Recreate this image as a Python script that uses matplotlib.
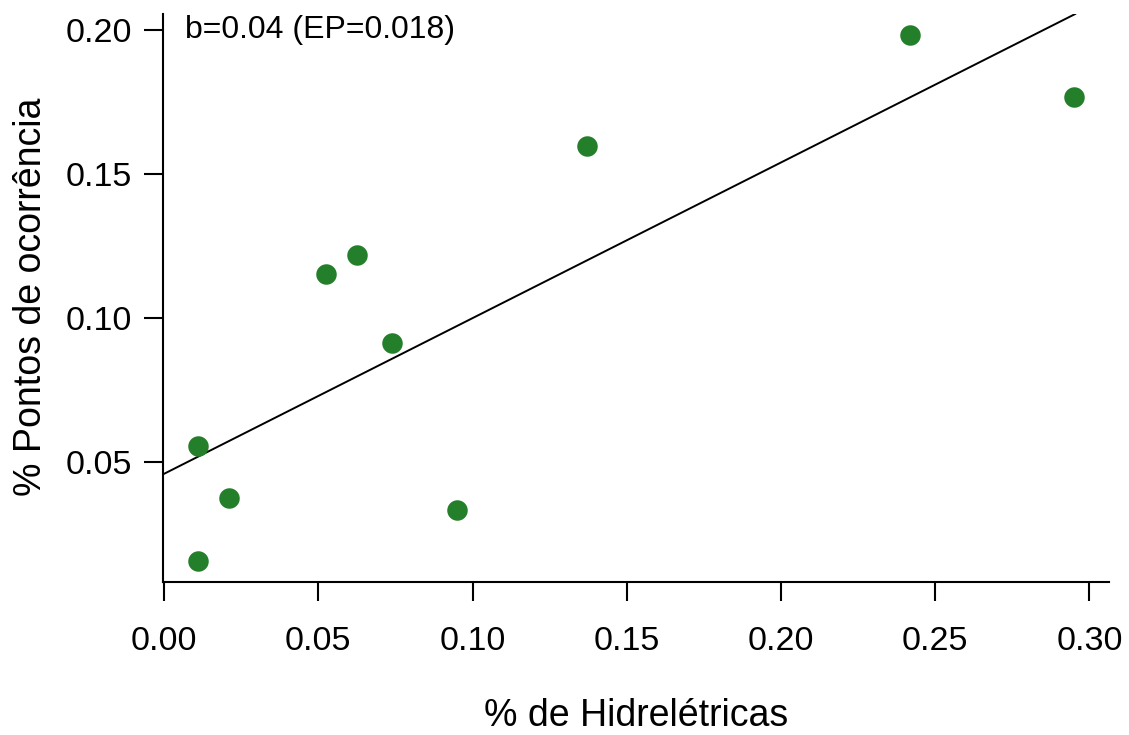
import matplotlib
matplotlib.use("Agg")
import matplotlib.pyplot as plt
import numpy as np

plt.rcParams['font.family'] = ['Liberation Sans', 'DejaVu Sans']

hidro = [0.011, 0.011, 0.021, 0.0525, 0.0626, 0.074, 0.095, 0.137, 0.242, 0.295]
pontos = [0.0555, 0.0155, 0.0375, 0.1154, 0.1217, 0.0914, 0.0333, 0.1596, 0.1983, 0.1767]
intercept = 0.0458
slope = 0.541
xticks = [0.00, 0.05, 0.10, 0.15, 0.20, 0.25, 0.30]
yticks = [0.05, 0.10, 0.15, 0.20]
annot = "b=0.04 (EP=0.018)"

W, H = 1129, 735
fig = plt.figure(figsize=(W / 100, H / 100), dpi=100)
ax = fig.add_axes([163 / W, (H - 582) / H, (1109 - 163) / W, (582 - 14) / H])

xr = max(hidro) - min(hidro)
yr = max(pontos) - min(pontos)
ax.set_xlim(min(hidro) - 0.04 * xr, max(hidro) + 0.04 * xr)
ax.set_ylim(min(pontos) - 0.04 * yr, max(pontos) + 0.04 * yr)

ax.scatter(hidro, pontos, s=(20.5 * 0.72) ** 2, color='#247f2b', zorder=3, linewidths=0)
ax.axline((0, intercept), slope=slope, color='black', lw=1.4, zorder=2)

for s in ['top', 'right']:
    ax.spines[s].set_visible(False)
ax.spines['left'].set_linewidth(1.5)
ax.spines['bottom'].set_linewidth(1.5)

ax.set_xticks(xticks)
ax.set_xticklabels([f"{t:.2f}" for t in xticks])
ax.set_yticks(yticks)
ax.set_yticklabels([f"{t:.2f}" for t in yticks])
ax.tick_params(axis='both', length=14, width=1.5, labelsize=24.5, color='black')
ax.tick_params(axis='x', pad=18)
ax.tick_params(axis='y', pad=8)

fig.text(636 / W, (H - 726) / H, "% de Hidrelétricas", fontsize=27, ha='center', va='baseline')
fig.text(31 / W, (H - 297) / H, "% Pontos de ocorrência", fontsize=27, ha='center', va='center',
         rotation=90)

fig.text(185 / W, (H - 38) / H, annot, fontsize=23, va='baseline', ha='left')

fig.savefig("out.png", dpi=100)
